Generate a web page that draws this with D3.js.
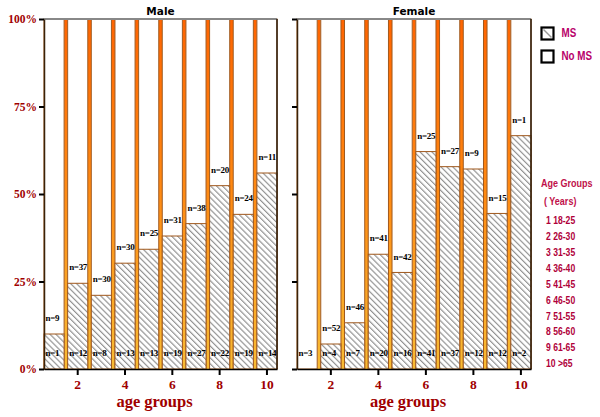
<!DOCTYPE html>
<html>
<head>
<meta charset="utf-8">
<script src="https://cdn.jsdelivr.net/npm/d3@7"></script>
<style>
  body { margin: 0; background: #fff; }
</style>
</head>
<body>
<div id="chart"></div>
<script>
const width = 600;
const height = 417;

// counts (n=...)
const ageGroups = [1, 2, 3, 4, 5, 6, 7, 8, 9, 10];
const maleMS = [1, 12, 8, 13, 13, 19, 27, 22, 19, 14];
const maleNoMS = [9, 37, 30, 30, 25, 31, 38, 20, 24, 11];
const femaleMS = [0, 4, 7, 20, 16, 41, 37, 12, 12, 2];
const femaleNoMS = [3, 52, 46, 41, 42, 25, 27, 9, 15, 1];
const yTicks = [0, 0.25, 0.5, 0.75, 1];
const xTicks = [2, 4, 6, 8, 10];
const ageLabels = ["1 18-25", "2 26-30", "3 31-35", "4 36-40", "5 41-45",
  "6 46-50", "7 51-55", "8 56-60", "9 61-65", "10 >65"];

const svg = d3
  .select("#chart")
  .append("svg")
  .attr("width", width)
  .attr("height", height);

const defs = svg.append("defs");

const hatch = defs
  .append("pattern")
  .attr("id", "hatch")
  .attr("patternUnits", "userSpaceOnUse")
  .attr("width", 4.2)
  .attr("height", 4.2)
  .attr("patternTransform", "rotate(-45)");
hatch.append("rect").attr("width", 4.2).attr("height", 4.2).attr("fill", "#fff");
hatch
  .append("line")
  .attr("x1", 0.6).attr("y1", 0).attr("x2", 0.6).attr("y2", 4.2)
  .attr("stroke", "#8a8a8a")
  .attr("stroke-width", 1.1);

const grad = defs
  .append("linearGradient")
  .attr("id", "strip")
  .attr("x1", 0).attr("y1", 0).attr("x2", 0).attr("y2", 1);
grad.append("stop").attr("offset", "0%").attr("stop-color", "#ff6400");
grad.append("stop").attr("offset", "50%").attr("stop-color", "#ff8a12");
grad.append("stop").attr("offset", "100%").attr("stop-color", "#f8bc34");

const y = d3.scaleLinear().domain([0, 1]).range([369, 19]);

const serifRed = (sel, size) =>
  sel
    .attr("font-family", "'Liberation Serif', 'DejaVu Serif', serif")
    .attr("font-weight", "bold")
    .attr("font-size", size)
    .attr("fill", "#a00000");

const renderPanel = (x0, x1, title, ms, noMs, yLabels) => {
  const x = d3.scaleBand().domain(ageGroups).range([x0, x1]).paddingInner(0.15);
  const bw = x.bandwidth();
  const g = svg.append("g");

  // orange strips between bars
  g.selectAll("rect.strip")
    .data(ageGroups.slice(0, -1))
    .join("rect")
    .attr("class", "strip")
    .attr("x", (d) => x(d) + bw)
    .attr("y", y(1))
    .attr("width", x.step() - bw)
    .attr("height", y(0) - y(1))
    .attr("fill", "url(#strip)");

  const pct = ageGroups.map((d, i) => ({
    age: d,
    ms: ms[i],
    no: noMs[i],
    p: ms[i] / (ms[i] + noMs[i]),
  }));

  const bars = g.selectAll("g.bar").data(pct).join("g").attr("class", "bar");

  bars
    .append("rect")
    .attr("x", (d) => x(d.age))
    .attr("y", y(1))
    .attr("width", bw)
    .attr("height", y(0) - y(1))
    .attr("fill", "#fff")
    .attr("stroke", "#a0581c")
    .attr("stroke-width", 1);

  bars
    .append("rect")
    .attr("x", (d) => x(d.age))
    .attr("y", (d) => y(d.p))
    .attr("width", bw)
    .attr("height", (d) => y(0) - y(d.p))
    .attr("fill", "url(#hatch)")
    .attr("stroke", "#a0581c")
    .attr("stroke-width", 1);

  const nLabel = (sel) =>
    sel
      .attr("font-family", "'Liberation Serif', 'DejaVu Serif', serif")
      .attr("font-weight", "bold")
      .attr("font-size", 9)
      .attr("letter-spacing", -0.3)
      .attr("fill", "#000")
      .attr("dominant-baseline", "middle");

  bars
    .filter((d) => d.ms > 0)
    .append("text")
    .attr("x", (d) => x(d.age) + 1.5)
    .attr("y", 354)
    .text((d) => "n=" + d.ms)
    .call(nLabel);

  bars
    .append("text")
    .attr("x", (d) => x(d.age) + 1.5)
    .attr("y", (d) => y(d.p) - 15)
    .text((d) => "n=" + d.no)
    .call(nLabel);

  // top frame line and right edge
  g.append("line")
    .attr("x1", x0).attr("x2", x1)
    .attr("y1", y(1)).attr("y2", y(1))
    .attr("stroke", "#888").attr("stroke-width", 2);
  g.append("line")
    .attr("x1", x1).attr("x2", x1)
    .attr("y1", y(1)).attr("y2", y(0))
    .attr("stroke", "#2a1a08").attr("stroke-width", 1.5);

  // y axis
  const yAxis = g
    .append("g")
    .attr("transform", `translate(${x0},0)`)
    .call(
      d3.axisLeft(y)
        .tickValues(yTicks)
        .tickSize(5)
        .tickSizeOuter(0)
        .tickPadding(2)
        .tickFormat(yLabels ? d3.format(".0%") : () => "")
    );
  yAxis.select(".domain").attr("stroke", "#3a2208").attr("stroke-width", 1.5);
  yAxis.selectAll(".tick line").attr("stroke", "#000").attr("stroke-width", 2);
  yAxis.selectAll("text").call(serifRed, 11.5);

  // x axis
  const xAxis = g
    .append("g")
    .attr("transform", `translate(0,${y(0)})`)
    .call(d3.axisBottom(x).tickValues(xTicks).tickSize(6).tickSizeOuter(0).tickPadding(4));
  xAxis.select(".domain").attr("stroke", "#000").attr("stroke-width", 1.5);
  xAxis.selectAll(".tick line").attr("stroke", "#000").attr("stroke-width", 2);
  xAxis.selectAll("text").call(serifRed, 13.5);

  g.append("text")
    .attr("x", (x0 + x1) / 2 - 6)
    .attr("y", 407)
    .attr("text-anchor", "middle")
    .text("age groups")
    .call(serifRed, 16.5);

  g.append("text")
    .attr("x", (x0 + x1) / 2)
    .attr("y", 15)
    .attr("text-anchor", "middle")
    .attr("font-family", "'DejaVu Sans', sans-serif")
    .attr("font-weight", "bold")
    .attr("font-size", 10.5)
    .attr("fill", "#000")
    .text(title);
};

renderPanel(44, 277, "Male", maleMS, maleNoMS, true);
renderPanel(297, 531, "Female", femaleMS, femaleNoMS, false);

// legend, narrow sans text made by squeezing Liberation Sans horizontally
const legend = svg.append("g");
const narrowText = (px, py, txt, size, bold, color) =>
  legend
    .append("text")
    .attr("transform", `translate(${px},${py}) scale(0.82,1)`)
    .attr("dominant-baseline", "middle")
    .attr("font-family", "'Liberation Sans', Arial, sans-serif")
    .attr("font-weight", bold ? "bold" : "normal")
    .attr("font-size", size)
    .attr("fill", color)
    .text(txt);

const legendItems = [
  { label: "MS", y: 27.5, hatched: true },
  { label: "No MS", y: 50.5, hatched: false },
];
legendItems.forEach((d) => {
  legend
    .append("rect")
    .attr("x", 541.5).attr("y", d.y)
    .attr("width", 12).attr("height", 12)
    .attr("fill", "#fff")
    .attr("stroke", "#000").attr("stroke-width", 2.2);
  if (d.hatched) {
    legend
      .append("line")
      .attr("x1", 543.5).attr("y1", d.y + 2)
      .attr("x2", 551.5).attr("y2", d.y + 10)
      .attr("stroke", "#999").attr("stroke-width", 1.5);
  }
  narrowText(561.5, d.y + 6.5, d.label, 12, true, "#b8006a");
});

narrowText(541, 184, "Age Groups", 11, true, "#c0104a");
narrowText(544, 202, "( Years)", 11, true, "#c0104a");

ageLabels.forEach((d, i) => {
  narrowText(546, 221.7 + i * 15.85, d, 10.5, true, "#b0003a");
});
</script>
</body>
</html>
